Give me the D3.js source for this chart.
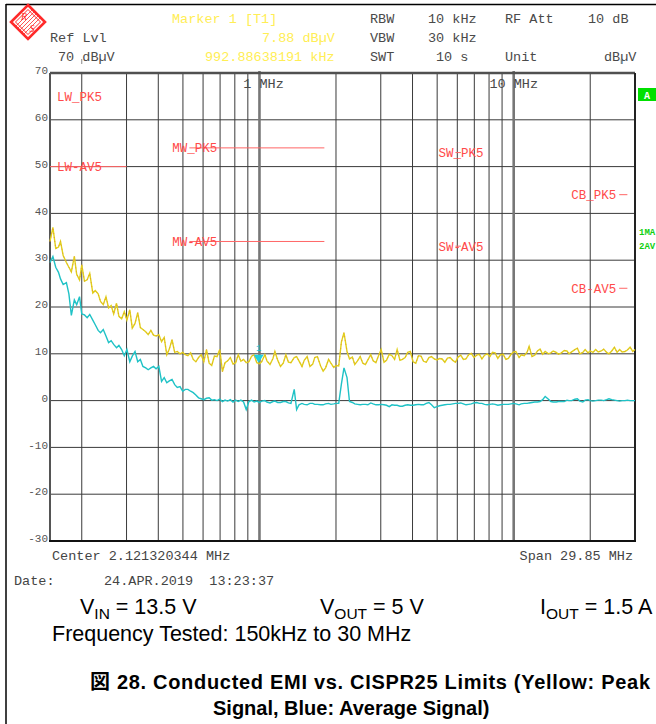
<!DOCTYPE html>
<html><head><meta charset="utf-8">
<script src="https://cdn.jsdelivr.net/npm/d3@7/dist/d3.min.js"></script>
<style>
html,body{margin:0;padding:0;background:#fff;}
svg{display:block;}
.mono{font-family:"Liberation Mono","Courier New",monospace;}
.sans{font-family:"Liberation Sans",Arial,"Noto Sans CJK JP",sans-serif;}
</style></head>
<body>
<svg id="chart" width="656" height="724"></svg>
<script>
// ---------------- DATA ----------------
// sweep frequencies (kHz)
const freqKHz = [
150,154,158,162,165,169,174,178,182,187,191,196,200,205,210,215,221,226,232,237,243,249,255,261,267,274,280,287,294,301,
309,316,324,332,340,348,357,365,374,383,392,402,412,422,432,442,453,464,475,487,499,511,523,536,549,562,576,590,604,619,
634,649,665,681,698,715,732,750,768,787,806,825,845,866,887,909,931,953,976,
1000,1020,1050,1070,1100,1130,1150,1180,1210,1240,1270,1300,1330,1370,1400,1430,1470,1500,1540,1580,
1620,1650,1690,1740,1780,1820,1870,1910,1960,2000,2050,2100,2150,2210,2260,2320,2370,2430,2490,2550,
2610,2670,2740,2800,2870,2940,3010,3090,3160,3240,3320,3400,3480,3570,3650,3740,3830,3920,4020,4120,
4220,4320,4420,4530,4640,4750,4870,4990,5110,5230,5360,5490,5620,5760,5900,6040,6190,6340,6490,6650,
6810,6980,7150,7320,7500,7680,7870,8060,8250,8450,8660,8870,9090,9310,9530,9760,
10000,10200,10500,10700,11000,11300,11500,11800,12100,12400,12700,13000,13300,13700,14000,14300,14700,15000,15400,15800,
16200,16500,16900,17400,17800,18200,18700,19100,19600,20000,20500,21000,21500,22100,22600,23200,23700,24300,24900,25500,
26100,26700,27400,28000,28700,29400,30000];
// Trace 1: peak detector (yellow), dBµV
const peakDbuV = [
34,37,32.5,32.8,34,31,29.5,28.5,27.5,30.8, 27,25.8,29,25.5,25.8,27.2,23,23.5,22.8,21.2,
20.5,22.2,19.8,20.3,18.5,20.8,18,17.5,19,17.2, 19.4,15.5,16.5,18.8,15.6,15.2,14.7,14.1,15.0,14.0,
13.8,14.1,12.6,13.5,9.8,11,13.0,10.3,10.5,10.0, 10.3,9.8,9.6,10.2,8.8,8.3,9.2,9.8,8.3,10.9,
8.0,7.5,9.5,9.4,10.9,6.2,8.1,8.5,9.2,7.8, 8.1,9.8,8.4,8.8,8.1,8.3,9.5,9.8,8.1,
7.9,8.3,9.8,8.5,7.7,9.0,10.5,8.6,7.3,8.0, 9.8,8.2,8.1,9.2,9.4,8.5,7.3,8.6,9.4,7.3,
7.8,9.2,9.4,7.4,6.3,7.0,8.8,8.0,7.1,7.5, 7.4,12.5,14.5,10.5,8.9,9.3,7.7,8.5,9.4,8.0,
7.7,8.7,9.8,8.5,8.1,9.6,10.9,8.2,8.6,9.9, 9.6,8.8,10.9,8.6,8.8,9.2,10.3,10.5,8.3,8.0,
9.6,9.5,8.4,8.2,9.2,9.4,8.9,8.7,9.0,8.9, 8.2,9.1,9.2,8.6,8.2,9.3,9.7,8.8,8.9,9.8,
10.1,9.2,9.7,9.9,8.9,9.7,10.0,9.4,10.3,10.2, 9.0,9.8,9.9,8.8,9.0,9.9,
10.4,10.5,9.2,9.8,9.6,10.4,11.6,9.4,9.7,10.6, 11.0,9.9,10.5,10.0,10.2,10.6,10.3,9.9,10.2,10.7,
10.6,10.0,10.4,10.9,11.2,10.0,10.3,10.9,10.2,10.6, 10.3,10.9,10.4,10.6,11.0,10.3,10.0,10.6,11.4,10.3,
10.9,10.4,10.5,10.8,11.4,10.5,10.9];
// Trace 2: average detector (cyan), dBµV
const avgDbuV = [
29.5,30.8,28.5,27.4,26,24.8,25.2,22.8,18.2,21.5, 20.5,22.2,18.5,18.3,17.7,18.4,17.2,16.2,15,14.5,
15.2,13.8,12.4,12.8,12.0,11.3,11.8,10.9,9.6,10.9, 8.3,9.5,10.5,8.3,8.8,7.3,7.0,6.6,7.0,7.3,
6.8,7.3,4.1,4.9,3.8,4.2,4.5,3.4,2.8,3.0, 2.0,2.4,2.4,2.0,1.7,1.2,0.6,0.4,0.2,0.5,
0.6,0.1,0.2,0.0,0.3,-0.2,0.1,-0.1,0.2,-0.3, 0.1,-0.2,0.1,-0.3,-1.9,-0.2,0.1,-0.3,-0.1,
-0.4,-0.1,0.0,-0.3,-0.5,-0.2,-0.1,-0.4,-0.4,-0.2, -0.2,-0.5,-0.6,2.4,-1.9,-0.9,-0.6,-0.8,-0.9,-0.6,
-0.6,-0.8,-0.8,-0.9,-0.9,-0.7,-0.6,-0.8,-0.7,-0.6, -0.6,3.5,7.0,4.9,-0.2,-0.4,-0.7,-0.8,-0.9,-0.8,
-0.8,-0.9,-0.5,-0.7,-0.9,-0.9,-0.8,-0.9,-1.0,-1.3, -0.9,-1.0,-1.0,-1.2,-1.2,-1.0,-0.9,-1.0,-1.0,-0.9,
-0.8,-0.9,-0.9,-0.6,-0.4,-0.9,-1.5,-1.3,-1.1,-1.0, -0.9,-0.8,-0.8,-0.7,-0.6,-0.6,-0.5,-0.7,-0.9,-0.8,
-0.7,-0.5,-0.4,-0.6,-0.6,-0.8,-0.9,-0.8,-0.7,-0.8, -1.0,-0.9,-0.8,-0.8,-0.8,-0.7,
-0.6,-0.7,-0.9,-0.7,-0.6,-0.6,-0.5,-0.4,-0.3,-0.3, -0.2,0.2,0.9,0.3,-0.2,-0.3,-0.3,-0.2,-0.2,-0.2,
0.1,0.0,0.0,0.3,0.4,-0.1,-0.3,0.1,0.2,0.0, -0.1,0.0,0.1,0.1,0.0,0.2,0.4,0.2,0.1,0.0,
-0.1,0.0,0.0,0.1,0.0,0.0,0.0];
// CISPR25 class 5 limit lines
const limitNames  = ["LW_PK5","LW-AV5","MW_PK5","MW-AV5","SW_PK5","SW-AV5","CB_PK5","CB-AV5"];
const limitStartMHz = [0.15,0.15,0.53,0.53,5.9,5.9,26,26];
const limitStopMHz  = [0.30,0.30,1.8,1.8,6.2,6.2,28,28];
const limitDbuV     = [70,50,54,34,53,33,44,24];
// axis
const yTicks = [70,60,50,40,30,20,10,0,-10,-20,-30];
const gridFreqMHz = [0.2,0.3,0.4,0.5,0.6,0.7,0.8,0.9,2,3,4,5,6,7,8,9,20];
const freqLinesMHz = [1,10];
const freqLineLabels = ["1 MHz","10 MHz"];
const markerFreqMHz = 0.99288638191, markerDbuV = 7.88;

// ---------------- LAYOUT ----------------
const svg = d3.select("#chart");
const X0 = 50, X1 = 635, Y0 = 73, Y1 = 541;
const x = d3.scaleLog().domain([0.15, 30]).range([X0, X1]);
const y = d3.scaleLinear().domain([-30, 70]).range([Y1, Y0]);
const GRAY = "#4a4a4a", YEL = "#ffee55", RED = "#ff4a4a";

svg.append("rect").attr("width",656).attr("height",724).attr("fill","#fff");
// outer frame
svg.append("line").attr("x1",6).attr("x2",656).attr("y1",4.5).attr("y2",4.5).attr("stroke","#000").attr("stroke-width",1.5);
svg.append("line").attr("x1",6).attr("x2",6).attr("y1",4).attr("y2",724).attr("stroke","#000").attr("stroke-width",1.5);

// logo
const lg = svg.append("g").attr("transform","translate(28,22)");
lg.append("path").attr("d","M0,-17L17,0L0,17L-17,0Z").attr("fill","#fff").attr("stroke","#ff2a2a").attr("stroke-width",2.6);
lg.append("path").attr("d","M0,-12.5L12.5,0L0,12.5L-12.5,0Z").attr("fill","none").attr("stroke","#ff2a2a").attr("stroke-width",1);
[-4,-2,0,2,4].forEach(o=>lg.append("line").attr("x1",-9+o).attr("y1",-9-o).attr("x2",9+o).attr("y2",9-o).attr("stroke","#ff2a2a").attr("stroke-width",0.8)
  .attr("transform","rotate(90)"));
lg.append("text").attr("x",-4).attr("y",-2).attr("font-size",10).attr("font-family","Liberation Serif,serif").attr("font-style","italic").attr("fill","#ff2a2a").attr("text-anchor","middle").text("R");
lg.append("text").attr("x",4).attr("y",10).attr("font-size",10).attr("font-family","Liberation Serif,serif").attr("font-style","italic").attr("fill","#ff2a2a").attr("text-anchor","middle").text("S");

// header texts
const header = [
  ["Marker 1 [T1]",172,18,YEL],["RBW",370,18,GRAY],["10 kHz",428,18,GRAY],["RF Att",505,18,GRAY],["10 dB",588,18,GRAY],
  ["Ref Lvl",50,37,GRAY],["7.88 dBµV",262,37,YEL],["VBW",370,37,GRAY],["30 kHz",428,37,GRAY],
  ["70 dBµV",58,56,GRAY],["992.88638191 kHz",205,56,YEL],["SWT",370,56,GRAY],["10 s",436,56,GRAY],["Unit",505,56,GRAY],["dBµV",604,56,GRAY]
];
svg.selectAll("text.hdr").data(header).join("text").attr("class","hdr mono")
  .attr("x",d=>d[1]).attr("y",d=>d[2]).attr("dy","0.35em").attr("font-size",13.5).attr("fill",d=>d[3]).text(d=>d[0]);

// grid
const grid = svg.append("g");
grid.selectAll("line.vg").data(gridFreqMHz).join("line")
  .attr("x1",d=>x(d)).attr("x2",d=>x(d)).attr("y1",Y0).attr("y2",Y1).attr("stroke","#3a3a3a").attr("stroke-width",1);
grid.selectAll("line.hg").data(yTicks.filter(v=>v<70 && v>-30)).join("line")
  .attr("x1",X0).attr("x2",X1).attr("y1",d=>y(d)).attr("y2",d=>y(d)).attr("stroke","#3a3a3a").attr("stroke-width",1);
// frequency lines
grid.selectAll("line.fl").data(freqLinesMHz).join("line")
  .attr("x1",d=>x(d)).attr("x2",d=>x(d)).attr("y1",Y0-2).attr("y2",Y1).attr("stroke","#777").attr("stroke-width",2.6);
svg.selectAll("text.fll").data(freqLinesMHz).join("text").attr("class","mono")
  .attr("x",(d,i)=>x(d)-(freqLineLabels[i].indexOf(" ")+1)*8.1).attr("y",Y0+10).attr("dy","0.35em")
  .attr("font-size",13.5).attr("fill",GRAY).text((d,i)=>freqLineLabels[i]);

// frame
svg.append("line").attr("x1",X0).attr("x2",X1).attr("y1",Y0).attr("y2",Y0).attr("stroke","#505050").attr("stroke-width",2.5);
svg.append("line").attr("x1",X0).attr("x2",X0).attr("y1",Y0).attr("y2",Y1).attr("stroke","#555").attr("stroke-width",2);
svg.append("line").attr("x1",X1).attr("x2",X1).attr("y1",Y0).attr("y2",Y1+1).attr("stroke","#222").attr("stroke-width",2);
svg.append("line").attr("x1",X0-1).attr("x2",X1+1).attr("y1",Y1).attr("y2",Y1).attr("stroke","#111").attr("stroke-width",2);
// tiny top marks
[0.2,26.5].forEach(f=>svg.append("line").attr("x1",x(f)).attr("x2",x(f)).attr("y1",59).attr("y2",64).attr("stroke","#888"));

// y tick labels
svg.selectAll("text.yt").data(yTicks).join("text").attr("class","mono")
  .attr("x",48).attr("y",d=>y(d)).attr("dy","0.1em").attr("text-anchor","end").attr("font-size",11).attr("fill","#555").text(d=>d);

// limit lines
const lim = limitNames.map((n,i)=>({n,a:limitStartMHz[i],b:limitStopMHz[i],v:limitDbuV[i]}));
svg.selectAll("line.lim").data(lim.filter(d=>d.v<70)).join("line")
  .attr("x1",d=>x(d.a)).attr("x2",d=>x(d.b)).attr("y1",d=>y(d.v)).attr("y2",d=>y(d.v)).attr("stroke","#ff6666").attr("stroke-width",1);
const labelDx = [7,7,-17,-17,-17,-17,-48,-48];
svg.selectAll("text.lim").data(lim).join("text").attr("class","mono")
  .attr("x",(d,i)=>x(d.a)+labelDx[i]).attr("y",d=>y(Math.min(d.v,65))).attr("dy","0.35em")
  .attr("font-size",12.5).attr("fill",RED).text(d=>d.n);

// traces
const pk = freqKHz.map((f,i)=>[f/1000,peakDbuV[i]]);
const av = freqKHz.map((f,i)=>[f/1000,avgDbuV[i]]);
const line = d3.line().x(d=>x(d[0])).y(d=>y(d[1]));
svg.append("path").datum(pk).attr("d",line).attr("fill","none").attr("stroke","#e0d21c").attr("stroke-width",1.4);
svg.append("path").datum(pk).attr("d",line).attr("fill","none").attr("stroke","#e8962a").attr("stroke-width",0.9).attr("stroke-dasharray","1,3");
svg.append("path").datum(av).attr("d",line).attr("fill","none").attr("stroke","#1fc2c6").attr("stroke-width",1.4);

// marker
const mx = x(markerFreqMHz), my = y(markerDbuV);
svg.append("path").attr("d",`M${mx-5},${my-9}L${mx+5},${my-9}L${mx},${my-1}Z`).attr("fill","#20d0e0");
svg.append("text").attr("class","mono").attr("x",mx).attr("y",my-13).attr("text-anchor","middle").attr("font-size",9).attr("fill","#20c0d0").text("1");

// right side annotations
svg.append("rect").attr("x",638).attr("y",88).attr("width",18).attr("height",13).attr("fill","#00e000");
svg.append("text").attr("class","mono").attr("x",647).attr("y",95).attr("dy","0.35em").attr("text-anchor","middle").attr("font-size",10).attr("font-weight","bold").attr("fill","#fff").text("A");
[["1MA",232],["2AV",246]].forEach(d=>svg.append("text").attr("class","mono").attr("x",639).attr("y",d[1]).attr("dy","0.35em")
  .attr("font-size",9).attr("font-weight","bold").attr("fill","#10d010").text(d[0]));

// bottom instrument texts
const foot = [["Center 2.121320344 MHz",52,555,"start"],["Span 29.85 MHz",633,555,"end"],["Date:",14,580,"start"],["24.APR.2019  13:23:37",104,580,"start"]];
svg.selectAll("text.ft").data(foot).join("text").attr("class","mono").attr("x",d=>d[1]).attr("y",d=>d[2]).attr("dy","0.35em")
  .attr("text-anchor",d=>d[3]).attr("font-size",13.5).attr("fill","#444").style("white-space","pre").attr("xml:space","preserve").text(d=>d[0]);

// conditions
function subLabel(xp, main, sub, rest){
  const t = svg.append("text").attr("class","sans").attr("x",xp).attr("y",614).attr("font-size",21.5).attr("fill","#000");
  t.append("tspan").text(main);
  t.append("tspan").attr("font-size",15.5).attr("dy",5).text(sub);
  t.append("tspan").attr("dy",-5).text(rest);
}
subLabel(80,"V","IN"," = 13.5 V");
subLabel(320,"V","OUT"," = 5 V");
subLabel(540,"I","OUT"," = 1.5 A");
svg.append("text").attr("class","sans").attr("x",52).attr("y",641).attr("font-size",21.5).attr("fill","#000").text("Frequency Tested: 150kHz to 30 MHz");
svg.append("text").attr("class","sans").attr("x",90).attr("y",689).attr("font-size",20).attr("font-weight","bold").attr("fill","#000")
  .attr("textLength",560).attr("lengthAdjust","spacing").text("図 28. Conducted EMI vs. CISPR25 Limits (Yellow: Peak");
svg.append("text").attr("class","sans").attr("x",213).attr("y",715).attr("font-size",20).attr("font-weight","bold").attr("fill","#000").text("Signal, Blue: Average Signal)");
</script>
</body></html>
